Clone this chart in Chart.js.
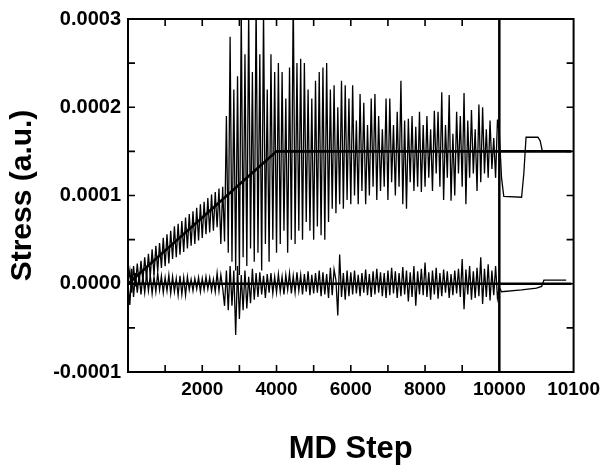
<!DOCTYPE html>
<html>
<head>
<meta charset="utf-8">
<script src="https://cdn.jsdelivr.net/npm/chart.js@4/dist/chart.umd.min.js"></script>
<style>
  html, body { margin: 0; padding: 0; background: #fff; }
</style>
</head>
<body>
<canvas id="stressChart" width="606" height="470"></canvas>
<script>
// samples every 50 MD steps from step 0 to 10000
const SAMPLE_START = 0;
const SAMPLE_EVERY = 50;

// stress in units of 1e-5 a.u.
const upperStress = [
  0, 1.5, -1.0, 2.0, -0.3, 2.3, 0.0, 2.6, 0.3, 3.0, 0.5, 3.4, 0.8, 3.9, 1.0, 4.3, 1.4, 4.6, 1.8, 5.2,
  2.0, 5.6, 2.3, 6.0, 2.8, 6.5, 3.0, 6.8, 3.3, 7.1, 3.6, 7.5, 4.0, 7.9, 4.3, 8.2, 4.5, 8.6, 4.9, 9.0,
  5.2, 9.3, 5.6, 9.7, 5.8, 10.1, 6.0, 10.4, 6.4, 10.8, 4.5, 11.0, 4.8, 19.0, 3.5, 28.0, 2.5, 22.0, 1.5, 23.5,
  1.0, 31.0, 3.0, 26.0, 2.0, 31.0, 4.0, 24.0, 2.5, 32.0, 3.5, 26.0, 1.5, 31.0, 4.5, 22.0, 2.5, 26.0, 5.0, 24.0,
  3.5, 25.0, 4.5, 24.0, 6.0, 21.0, 3.5, 24.5, 5.0, 33.0, 4.5, 25.0, 6.0, 25.5, 5.0, 25.0, 7.0, 22.0, 6.0, 21.0,
  5.0, 23.0, 6.5, 24.0, 5.5, 24.5, 5.0, 25.0, 7.0, 22.0, 8.5, 22.5, 8.0, 20.0, 9.0, 23.0, 8.5, 22.5, 9.5, 21.0,
  9.0, 22.5, 10.0, 18.5, 9.0, 21.5, 10.5, 20.5, 9.0, 18.0, 10.0, 21.0, 11.0, 21.5, 9.5, 19.0, 10.5, 17.5, 11.0, 21.0,
  9.5, 21.0, 11.5, 18.0, 10.0, 19.5, 11.0, 23.0, 9.0, 18.5, 8.5, 18.7, 11.5, 19.0, 10.5, 17.8, 11.0, 19.5, 10.4, 18.0,
  11.0, 19.0, 12.0, 17.5, 10.5, 19.6, 12.5, 19.5, 11.0, 21.7, 9.5, 18.0, 12.0, 21.4, 9.4, 17.0, 10.0, 19.5, 12.5, 19.0,
  11.0, 21.6, 9.0, 18.5, 12.0, 19.7, 12.5, 17.5, 10.5, 20.3, 11.5, 20.0, 12.5, 17.5, 12.0, 18.5, 13.0, 16.5, 12.0, 18.6,
  17.0
];

const lowerStress = [
  0, -2.4, 1.7, -1.5, 1.2, -1.0, 1.0, -1.2, 0.9, -1.0, 1.1, -0.8, 1.0, -1.1, 0.8, -0.9, 1.2, -0.7, 0.9, -1.0,
  0.7, -0.8, 1.0, -1.1, 0.8, -0.9, 0.6, -1.3, 0.9, -1.2, 0.7, -1.3, 0.8, -0.7, 0.5, -0.8, 0.6, -0.6, 0.7, -0.9,
  0.6, -0.7, 0.8, -0.6, 0.7, -0.8, 0.5, -0.9, 1.2, -0.8, 1.0, -0.5, -2.5, 1.5, -3.0, 2.0, -2.5, 1.5, -5.8, 2.0,
  -4.0, 1.0, -3.0, 1.5, -2.8, 0.8, -2.2, 1.7, -1.8, 1.2, -1.5, 1.3, -1.2, 0.9, -1.6, 1.1, -1.0, 1.2, -1.1, 0.8,
  -1.0, 1.1, -0.9, 0.8, -1.2, 1.0, -0.7, 1.2, -1.1, 0.9, -1.0, 1.3, -0.8, 1.0, -1.2, 1.1, -0.9, 1.4, -1.3, 1.0,
  -1.1, 1.2, -1.0, 1.5, -1.4, 1.3, -1.2, 1.1, -1.6, 1.8, -1.3, 1.6, 0.4, -3.6, 3.3, -1.5, 1.2, -1.8, 1.5, -1.4,
  1.3, -1.2, 1.5, -1.1, 1.0, -1.4, 1.2, -1.0, 1.6, -1.3, 1.1, -1.5, 1.4, -1.2, 1.7, -1.0, 1.3, -1.4, 1.2, -1.6,
  1.5, -1.3, 1.8, -1.1, 1.4, -1.6, 1.2, -1.4, 1.9, -1.2, 1.5, -2.0, 1.3, -1.5, 2.0, -2.5, 1.4, -1.2, 1.7, -1.3,
  2.4, -1.5, 1.3, -1.8, 1.5, -1.2, 1.8, -1.7, 1.2, -1.4, 1.6, -1.0, 1.4, -1.6, 1.1, -1.3, 1.5, -1.1, 1.7, -1.5,
  2.8, -2.9, 1.6, -1.2, 2.0, -1.8, 1.4, -1.6, 1.8, -1.4, 3.0, -2.3, 1.7, -1.5, 2.2, -1.9, 1.5, -1.3, 2.0, -1.6,
  -0.4
];

// after step 10000 (stretched part of the axis)
const upperTailSteps  = [10003, 10006, 10030, 10033, 10036, 10052, 10055, 10058, 10090];
const upperTailStress = [12.0, 9.9, 9.8, 12.5, 16.6, 16.6, 16.2, 15.0, 15.0];
const lowerTailSteps  = [10003, 10030, 10050, 10057, 10060, 10090];
const lowerTailStress = [-0.9, -0.7, -0.5, -0.3, 0.4, 0.4];

// thick reference lines
const rampSteps  = [0, 4000, 10097];
const rampStress = [0, 15, 15];
const zeroSteps  = [0, 10097];
const zeroStress = [0, 0];

// axes
const xTickSteps  = [2000, 4000, 6000, 8000, 10000, 10100];
const xMarkSteps  = [1000, 2000, 3000, 4000, 5000, 6000, 7000, 8000, 9000];
const yTickValues = [-10, 0, 10, 20, 30];
const yMarkValues = [-5, 0, 5, 10, 15, 20, 25];

const BREAK_AT = 10000;
const BREAK_ZOOM = 20;

function toAxis(step) {
  return step <= BREAK_AT ? step : BREAK_AT + (step - BREAK_AT) * BREAK_ZOOM;
}

function sampled(values) {
  return values.map((v, i) => ({ x: toAxis(SAMPLE_START + i * SAMPLE_EVERY), y: v }));
}

function pairs(steps, values) {
  return steps.map((s, i) => ({ x: toAxis(s), y: values[i] }));
}

const FONT = "'Liberation Sans', Arial, Helvetica, sans-serif";

// frame, inward tick marks and the divider at step 10000
const framePlugin = {
  id: 'frame',
  afterDatasetsDraw(chart) {
    const { ctx, chartArea: a, scales: { x, y } } = chart;
    ctx.save();
    ctx.strokeStyle = '#000';
    ctx.lineWidth = 1.6;
    ctx.beginPath();
    xMarkSteps.forEach(s => {
      const px = x.getPixelForValue(toAxis(s));
      ctx.moveTo(px, a.bottom); ctx.lineTo(px, a.bottom - 7);
      ctx.moveTo(px, a.top); ctx.lineTo(px, a.top + 7);
    });
    yMarkValues.forEach(v => {
      const py = y.getPixelForValue(v);
      ctx.moveTo(a.left, py); ctx.lineTo(a.left + 7, py);
      ctx.moveTo(a.right, py); ctx.lineTo(a.right - 7, py);
    });
    ctx.stroke();

    ctx.lineWidth = 2;
    ctx.strokeRect(a.left, a.top, a.right - a.left, a.bottom - a.top);

    const bx = x.getPixelForValue(toAxis(BREAK_AT));
    ctx.lineWidth = 2.5;
    ctx.beginPath();
    ctx.moveTo(bx, a.top);
    ctx.lineTo(bx, a.bottom);
    ctx.stroke();
    ctx.restore();
  }
};

const thin = { borderColor: '#000', borderWidth: 1.3, pointRadius: 0, tension: 0, fill: false };
const thick = { borderColor: '#000', borderWidth: 2.6, pointRadius: 0, tension: 0, fill: false };

new Chart(document.getElementById('stressChart'), {
  type: 'line',
  data: {
    datasets: [
      Object.assign({ label: 'ramp', data: pairs(rampSteps, rampStress), order: 0 }, thick),
      Object.assign({ label: 'zero', data: pairs(zeroSteps, zeroStress), order: 1 }, thick),
      Object.assign({ label: 'upper', data: sampled(upperStress).concat(pairs(upperTailSteps, upperTailStress)), order: 2 }, thin),
      Object.assign({ label: 'lower', data: sampled(lowerStress).concat(pairs(lowerTailSteps, lowerTailStress)), order: 3 }, thin)
    ]
  },
  options: {
    responsive: false,
    animation: false,
    layout: { padding: { top: 14, right: 31, left: 0, bottom: 0 } },
    plugins: { legend: { display: false }, tooltip: { enabled: false } },
    scales: {
      x: {
        type: 'linear',
        min: 0,
        max: toAxis(10100),
        afterFit(scale) { scale.height = 98; },
        afterBuildTicks(scale) { scale.ticks = xTickSteps.map(s => ({ value: toAxis(s) })); },
        grid: { display: false, drawTicks: false },
        border: { display: false },
        ticks: {
          autoSkip: false,
          maxRotation: 0,
          padding: 6,
          color: '#000',
          font: { family: FONT, size: 19, weight: 'bold' },
          callback: (v, i) => String(xTickSteps[i])
        },
        title: {
          display: true,
          text: 'MD Step',
          color: '#000',
          font: { family: FONT, size: 31, weight: 'bold' },
          padding: { top: 0, bottom: 2 }
        }
      },
      y: {
        min: -10,
        max: 30,
        afterFit(scale) { scale.width = 128; },
        afterBuildTicks(scale) { scale.ticks = yTickValues.map(v => ({ value: v })); },
        grid: { display: false, drawTicks: false },
        border: { display: false },
        ticks: {
          padding: 7,
          color: '#000',
          font: { family: FONT, size: 20, weight: 'bold' },
          callback: v => (v / 1e5).toFixed(4)
        },
        title: {
          display: true,
          text: 'Stress (a.u.)',
          color: '#000',
          font: { family: FONT, size: 30, weight: 'bold' },
          padding: { top: 5, bottom: 0 }
        }
      }
    }
  },
  plugins: [framePlugin]
});
</script>
</body>
</html>
